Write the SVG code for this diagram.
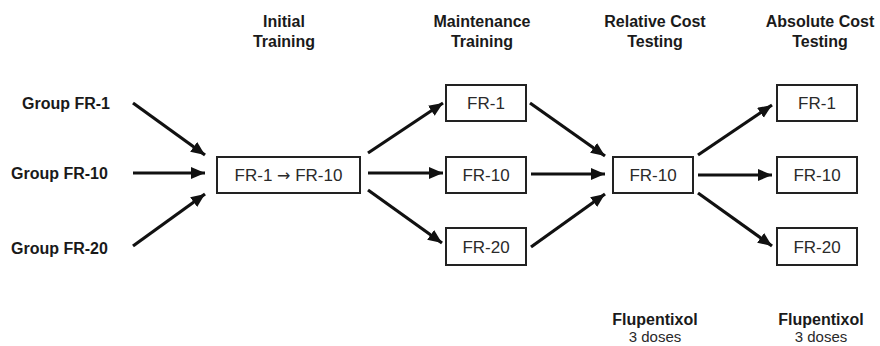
<svg xmlns="http://www.w3.org/2000/svg" width="880" height="346" viewBox="0 0 880 346">
<style>
.h{font-family:"Liberation Sans",Arial,sans-serif;font-weight:bold;font-size:16px;fill:#1a1a1a;text-anchor:middle}
.g{font-family:"Liberation Sans",Arial,sans-serif;font-weight:bold;font-size:16px;fill:#1a1a1a;text-anchor:start}
.b{font-family:"Liberation Sans",Arial,sans-serif;font-size:17px;fill:#2a2a2a;text-anchor:middle}
.d{font-family:"Liberation Sans",Arial,sans-serif;font-size:15px;fill:#2a2a2a;text-anchor:middle}
.ar{font-family:"DejaVu Sans",sans-serif;font-size:16px}
.box{fill:#fff;stroke:#222;stroke-width:2}
.c{stroke:#111;stroke-width:3.2;fill:none;marker-end:url(#ah)}
</style>
<defs>
<marker id="ah" markerUnits="userSpaceOnUse" markerWidth="16" markerHeight="14" refX="14" refY="6" orient="auto">
<path d="M0,0 L14,6 L0,12 Z" fill="#111"/>
</marker>
</defs>
<rect width="880" height="346" fill="#fff"/>
<g id="headers">
<text class="h" x="284" y="27">Initial</text>
<text class="h" x="284" y="47">Training</text>
<text class="h" x="482" y="27">Maintenance</text>
<text class="h" x="482" y="47">Training</text>
<text class="h" x="655" y="27">Relative Cost</text>
<text class="h" x="655" y="47">Testing</text>
<text class="h" x="820" y="27">Absolute Cost</text>
<text class="h" x="820" y="47">Testing</text>
</g>
<g id="group-fr1"><text class="g" x="22" y="109">Group FR-1</text></g>
<g id="group-fr10"><text class="g" x="11" y="179">Group FR-10</text></g>
<g id="group-fr20"><text class="g" x="11" y="254">Group FR-20</text></g>
<g id="initial"><rect class="box" x="217" y="157" width="143" height="36"/><text class="b" x="288.5" y="181">FR-1 <tspan class="ar">→</tspan> FR-10</text></g>
<g id="maint-fr1"><rect class="box" x="446" y="85" width="80" height="36"/><text class="b" x="486" y="109">FR-1</text></g>
<g id="maint-fr10"><rect class="box" x="446" y="157" width="80" height="36"/><text class="b" x="486" y="181">FR-10</text></g>
<g id="maint-fr20"><rect class="box" x="446" y="228" width="80" height="37"/><text class="b" x="486" y="253">FR-20</text></g>
<g id="relative"><rect class="box" x="613" y="157" width="80" height="36"/><text class="b" x="653" y="181">FR-10</text></g>
<g id="abs-fr1"><rect class="box" x="777" y="85" width="80" height="36"/><text class="b" x="817" y="109">FR-1</text></g>
<g id="abs-fr10"><rect class="box" x="777" y="157" width="80" height="36"/><text class="b" x="817" y="181">FR-10</text></g>
<g id="abs-fr20"><rect class="box" x="777" y="228" width="80" height="37"/><text class="b" x="817" y="253">FR-20</text></g>
<g id="drug-relative"><text class="h" x="655" y="325">Flupentixol</text><text class="d" x="655" y="342">3 doses</text></g>
<g id="drug-absolute"><text class="h" x="821" y="325">Flupentixol</text><text class="d" x="821" y="342">3 doses</text></g>
<g id="connectors">
<line class="c" x1="133" y1="103" x2="205" y2="155"/>
<line class="c" x1="133" y1="173" x2="205" y2="173"/>
<line class="c" x1="133" y1="246" x2="205" y2="194"/>
<line class="c" x1="368" y1="153" x2="443" y2="103"/>
<line class="c" x1="368" y1="173" x2="443" y2="173"/>
<line class="c" x1="368" y1="190" x2="442" y2="243"/>
<line class="c" x1="530" y1="103" x2="605" y2="156"/>
<line class="c" x1="531" y1="174" x2="605" y2="174"/>
<line class="c" x1="531" y1="247" x2="605" y2="194"/>
<line class="c" x1="698" y1="155" x2="772" y2="105"/>
<line class="c" x1="698" y1="175" x2="772" y2="175"/>
<line class="c" x1="698" y1="193" x2="772" y2="246"/>
</g>
</svg>
